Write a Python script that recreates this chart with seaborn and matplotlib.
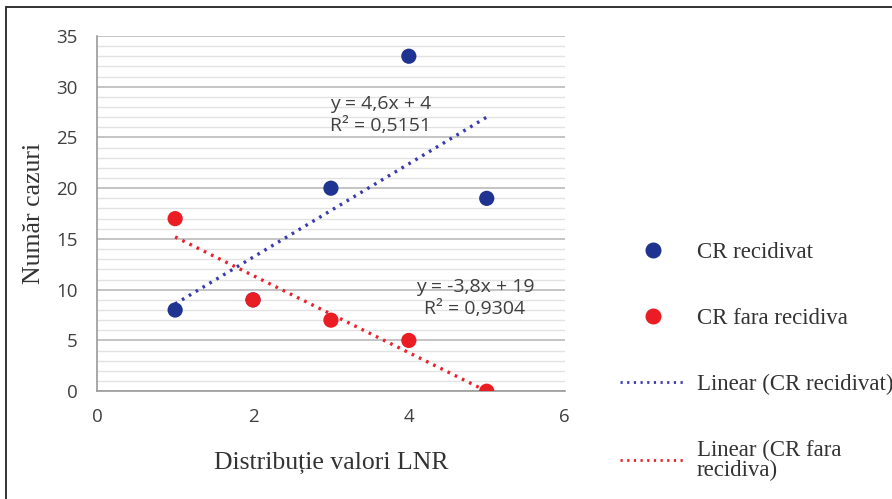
import matplotlib.pyplot as plt
import numpy as np
import pandas as pd
import seaborn as sns
from matplotlib.lines import Line2D
from matplotlib.patches import Rectangle
from matplotlib.ticker import MultipleLocator

# values
lnr_recidivat = [1, 2, 3, 4, 5]
cazuri_recidivat = [8, 9, 20, 33, 19]
lnr_fara = [1, 2, 3, 4, 5]
cazuri_fara = [17, 9, 7, 5, 0]

blue = "#1f3490"
red = "#ea1c24"
blue_line = "#3b3bb0"
red_line = "#e8222c"

serif = ["Liberation Serif", "DejaVu Serif"]
sans = ["Open Sans", "DejaVu Sans"]

df_rec = pd.DataFrame({"LNR": lnr_recidivat, "Cazuri": cazuri_recidivat})
df_fara = pd.DataFrame({"LNR": lnr_fara, "Cazuri": cazuri_fara})

sns.set_style("white")
plt.rcParams["font.family"] = sans

fig = plt.figure(figsize=(8.92, 4.99), dpi=100)
ax = fig.add_axes([0.109, 0.216, 0.524, 0.712])

# trend lines
dots = (0, (0.8, 1.6))
sns.regplot(data=df_rec, x="LNR", y="Cazuri", scatter=False, ci=None, ax=ax,
            line_kws={"color": blue_line, "lw": 2.4, "ls": dots})
sns.regplot(data=df_fara, x="LNR", y="Cazuri", scatter=False, ci=None, ax=ax,
            line_kws={"color": red_line, "lw": 2.4, "ls": dots})

sns.scatterplot(data=df_rec, x="LNR", y="Cazuri", color=blue, s=120,
                edgecolor="none", ax=ax, zorder=3)
sns.scatterplot(data=df_fara, x="LNR", y="Cazuri", color=red, s=120,
                edgecolor="none", ax=ax, zorder=4)


def eq_text(x, y):
    m, b = np.polyfit(x, y, 1)
    r2 = np.corrcoef(x, y)[0, 1] ** 2
    ms = f"{m:.1f}".replace(".", ",")
    bs = f"{b:.0f}"
    rs = f"{r2:.4f}".replace(".", ",")
    return f"y = {ms}x + {bs}\nR² = {rs}"


ax.text(2.99, 27.2, eq_text(lnr_recidivat, cazuri_recidivat), fontsize=14,
        color="#404040", linespacing=1.25, va="center", ha="left")
ax.text(4.85, 9.2, eq_text(lnr_fara, cazuri_fara), fontsize=14,
        color="#404040", linespacing=1.3, va="center", ha="center",
        multialignment="center")

ax.set_xlim(0, 6)
ax.set_ylim(0, 35)
ax.xaxis.set_major_locator(MultipleLocator(2))
ax.yaxis.set_major_locator(MultipleLocator(5))
ax.yaxis.set_minor_locator(MultipleLocator(1))
ax.grid(axis="y", which="major", color="#b4b4b4", lw=1.1)
ax.grid(axis="y", which="minor", color="#e2e2e2", lw=1.0)
ax.set_axisbelow(True)

for side in ["top", "right"]:
    ax.spines[side].set_visible(False)
for side in ["left", "bottom"]:
    ax.spines[side].set_color("#9a9a9a")
    ax.spines[side].set_linewidth(1.2)
ax.tick_params(axis="both", which="major", direction="out", length=6,
               color="#9a9a9a", labelsize=13.5, labelcolor="#404040")
ax.tick_params(axis="y", which="major", pad=8)
ax.tick_params(axis="x", which="major", pad=6)
ax.tick_params(axis="y", which="minor", length=0)

ax.set_xlabel("Distribuție valori LNR", family=serif, fontsize=18.5,
              color="#333333", labelpad=19)
ax.set_ylabel("Număr cazuri", family=serif, fontsize=18.5,
              color="#333333", labelpad=8)

handles = [
    Line2D([], [], ls="none", marker="o", color=blue, markersize=10.5),
    Line2D([], [], ls="none", marker="o", color=red, markersize=10.5),
    Line2D([], [], color=blue_line, lw=2, ls=dots),
    Line2D([], [], color=red_line, lw=2, ls=dots),
]
labels = ["CR recidivat", "CR fara recidiva", "Linear (CR recidivat)",
          "Linear (CR fara\nrecidiva)"]
leg = fig.legend(handles, labels, loc="upper left", bbox_to_anchor=(0.685, 0.533),
                 frameon=False, handlelength=2.84, handletextpad=0.5,
                 labelspacing=1.95, borderaxespad=0,
                 prop={"family": serif, "size": 16.5}, labelcolor="#333333")
leg.get_texts()[3].set_linespacing(0.95)

# outer frame, only top and left edges fall inside the picture
fig.patches.append(Rectangle((0.0065, -0.05), 1.1, 1.036, transform=fig.transFigure,
                             fill=False, edgecolor="#333333", lw=1.4,
                             clip_on=False))

fig.savefig("out.png", dpi=100)
